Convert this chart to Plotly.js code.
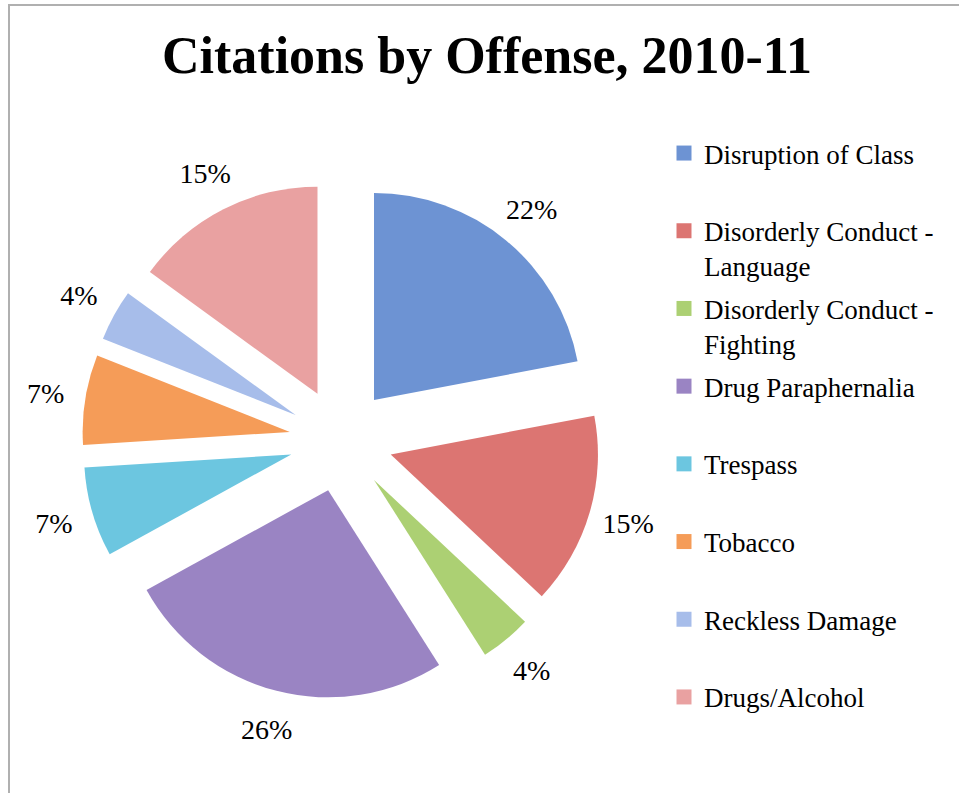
<!DOCTYPE html>
<html>
<head>
<meta charset="utf-8">
<script src="https://cdn.plot.ly/plotly-3.0.1.min.js"></script>
<style>
  html, body { margin: 0; padding: 0; background: #ffffff; }
  #chart { position: absolute; left: 0; top: 0; width: 959px; height: 793px; }
  #frame { position: absolute; left: 8px; top: 4px; width: 980px; height: 820px;
           border-top: 2px solid #b0b0b0; border-left: 2px solid #b0b0b0;
           pointer-events: none; z-index: 10; }
</style>
</head>
<body>
<div id="chart"></div>
<div id="frame"></div>
<script>
// ---- data ----
var categories = ['Disruption of Class', 'Disorderly Conduct - Language', 'Disorderly Conduct - Fighting',
                  'Drug Paraphernalia', 'Trespass', 'Tobacco', 'Reckless Damage', 'Drugs/Alcohol'];
var legendLabels = ['Disruption of Class<br> ', 'Disorderly Conduct -<br>Language', 'Disorderly Conduct -<br>Fighting',
                    'Drug Paraphernalia<br> ', 'Trespass<br> ', 'Tobacco<br> ', 'Reckless Damage<br> ', 'Drugs/Alcohol<br> '];
var percents = [22, 15, 4, 26, 7, 7, 4, 15];
var colors = ['#6d93d3', '#dc7572', '#acd073', '#9a84c3', '#6cc6e0', '#f59c58', '#a7bdea', '#e9a1a1'];

var FONT = 'Liberation Serif, Times New Roman, serif';

// pie geometry (pixels)
var CX = 341, CY = 440;       // pie centre
var HALF = 259;               // half-size of the exploded pie's domain
var LR = 336;                 // outer radius of the label ring
var W = 959, H = 793;

var traces = [];

// invisible ring that carries the percentage labels just outside the exploded slices
traces.push({
  type: 'pie',
  labels: categories,
  values: percents,
  sort: false,
  direction: 'clockwise',
  rotation: 0,
  hole: 0.78,
  marker: { colors: categories.map(function () { return 'rgba(0,0,0,0)'; }), line: { width: 0 } },
  texttemplate: '%{value}%',
  textposition: 'inside',
  insidetextorientation: 'horizontal',
  insidetextfont: { family: FONT, size: 28, color: '#000000' },
  showlegend: false,
  hoverinfo: 'skip',
  domain: { x: [(CX - LR) / W, (CX + LR) / W], y: [1 - (CY + LR) / H, 1 - (CY - LR) / H] }
});

// the exploded pie
traces.push({
  type: 'pie',
  labels: categories,
  values: percents,
  sort: false,
  direction: 'clockwise',
  rotation: 0,
  pull: 0.25,
  marker: { colors: colors, line: { width: 0 } },
  textinfo: 'none',
  showlegend: false,
  hoverinfo: 'label+percent',
  domain: { x: [(CX - HALF) / W, (CX + HALF) / W], y: [1 - (CY + HALF) / H, 1 - (CY - HALF) / H] }
});

// legend entries (one per category, drawn by the library's legend)
for (var i = 0; i < categories.length; i++) {
  traces.push({
    type: 'scatter',
    mode: 'markers',
    x: [null], y: [null],
    name: legendLabels[i],
    legendgroup: 'g' + i,
    marker: { symbol: 'square', size: 15, color: colors[i] },
    hoverinfo: 'skip'
  });
}

var layout = {
  width: W,
  height: H,
  margin: { l: 0, r: 0, t: 0, b: 0 },
  paper_bgcolor: '#ffffff',
  plot_bgcolor: '#ffffff',
  title: {
    text: '<b>Citations by Offense, 2010-11</b>',
    font: { family: FONT, size: 52, color: '#000000' },
    x: 487 / W, xanchor: 'center',
    y: 1 - 55 / H, yanchor: 'middle'
  },
  xaxis: { visible: false },
  yaxis: { visible: false },
  showlegend: true,
  legend: {
    x: 664 / W, xanchor: 'left',
    y: 1 - 129 / H, yanchor: 'top',
    font: { family: FONT, size: 27, color: '#000000' },
    traceorder: 'grouped',
    tracegroupgap: 4.5,
    valign: 'top',
    bgcolor: 'rgba(0,0,0,0)'
  }
};

Plotly.newPlot('chart', traces, layout, { displayModeBar: false, staticPlot: true });
</script>
</body>
</html>
